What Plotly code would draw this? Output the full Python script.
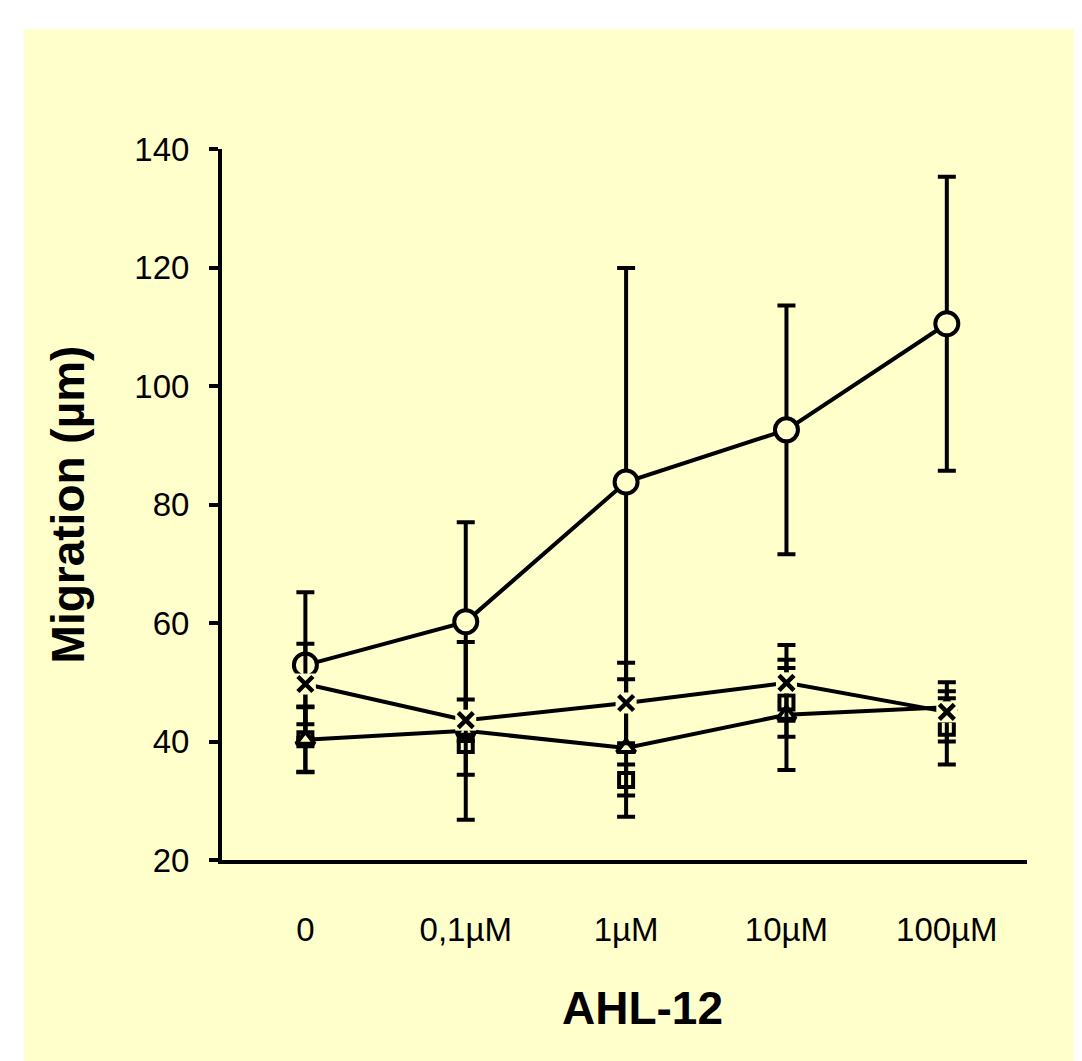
import plotly.graph_objects as go

categories = ["0", "0,1µM", "1µM", "10µM", "100µM"]

circle_vals = [52.9, 60.2, 83.8, 92.6, 110.5]
circle_err = [12.3, 16.8, 36.1, 21.0, 24.8]

square_vals = [40.4, 39.4, 33.5, 46.6, 42.3]
square_err = [5.5, 5.0, 2.6, 5.8, 6.2]

triangle_vals = [40.3, 41.8, 38.9, 44.5, 45.8]
triangle_err = [5.5, 15.0, 11.6, 9.3, 1.5]

cross_vals = [49.7, 43.6, 46.5, 49.9, 45.0]
cross_err = [6.8, 3.5, 6.8, 6.4, 5.0]

BG = "#FFFFCC"
INK = "#000000"
FONT = "Liberation Sans, Arial, sans-serif"
LW = 4


def err(vals):
    return dict(type="data", array=vals, visible=True, color=INK, thickness=LW, width=9)


fig = go.Figure()

fig.add_trace(go.Scatter(
    x=categories, y=circle_vals, mode="lines+markers", name="circle",
    line=dict(color=INK, width=LW),
    marker=dict(symbol="circle", size=23, color=BG, line=dict(color=INK, width=LW)),
    error_y=err(circle_err), cliponaxis=False,
))

fig.add_trace(go.Scatter(
    x=categories, y=square_vals, mode="markers", name="square",
    marker=dict(symbol="square", size=14, color=BG, line=dict(color=INK, width=LW)),
    error_y=err(square_err), cliponaxis=False,
))

fig.add_trace(go.Scatter(
    x=categories, y=triangle_vals, mode="lines+markers", name="triangle",
    line=dict(color=INK, width=LW),
    marker=dict(symbol="triangle-up", size=16, color=BG, line=dict(color=INK, width=LW)),
    error_y=err(triangle_err), cliponaxis=False,
))

# X series: line + background-coloured box behind the glyph (as in the original), then the glyph
fig.add_trace(go.Scatter(
    x=categories, y=cross_vals, mode="lines+markers", name="cross",
    line=dict(color=INK, width=LW),
    marker=dict(symbol="square", size=21, color=BG, line=dict(width=0)),
    error_y=err(cross_err), cliponaxis=False, hoverinfo="skip",
))
fig.add_trace(go.Scatter(
    x=categories, y=cross_vals, mode="markers", name="cross",
    marker=dict(symbol="x-thin", size=15, color=INK, line=dict(color=INK, width=4.5)),
    cliponaxis=False, showlegend=False,
))

# page body has an 8px default margin, so the figure is drawn 8px smaller
OFF = 8
FW, FH = 1082 - OFF, 1061 - OFF
L, R, T, B = 222 - OFF, 55, 149 - OFF, 201
W, H = FW - L - R, FH - T - B

# pale-yellow panel (white strip on top and left)
fig.add_shape(type="rect", xref="paper", yref="paper",
              x0=(24 - OFF - L) / W, x1=1.1, y0=-0.35, y1=(FH - B - (29 - OFF)) / H,
              fillcolor=BG, line=dict(width=0), layer="below")

fig.add_annotation(text="<b>AHL-12</b>", xref="paper", yref="paper",
                   x=(642 - OFF - L) / W, y=(FH - B - (1008 - OFF)) / H,
                   xanchor="center", yanchor="middle",
                   showarrow=False, font=dict(family=FONT, size=46, color=INK))

fig.update_layout(
    width=FW, height=FH,
    margin=dict(l=L, r=R, t=T, b=B, autoexpand=False),
    paper_bgcolor="white", plot_bgcolor=BG,
    showlegend=False,
    font=dict(family=FONT, color=INK),
)

fig.update_xaxes(
    type="category", range=[-0.52, 4.5],
    showline=True, linecolor=INK, linewidth=4,
    showgrid=False, zeroline=False, ticks="",
    tickfont=dict(family=FONT, size=33, color=INK),
    ticklabelstandoff=37,
)
fig.update_yaxes(
    range=[20, 140], dtick=20, tick0=20,
    showline=True, linecolor=INK, linewidth=4,
    showgrid=False, zeroline=False,
    ticks="outside", ticklen=9, tickwidth=3.5, tickcolor=INK,
    tickfont=dict(family=FONT, size=33, color=INK),
    ticklabelstandoff=13,
    title=dict(text="<b>Migration (µm)</b>", font=dict(family=FONT, size=46, color=INK), standoff=36),
)

fig.write_html("out.html")
